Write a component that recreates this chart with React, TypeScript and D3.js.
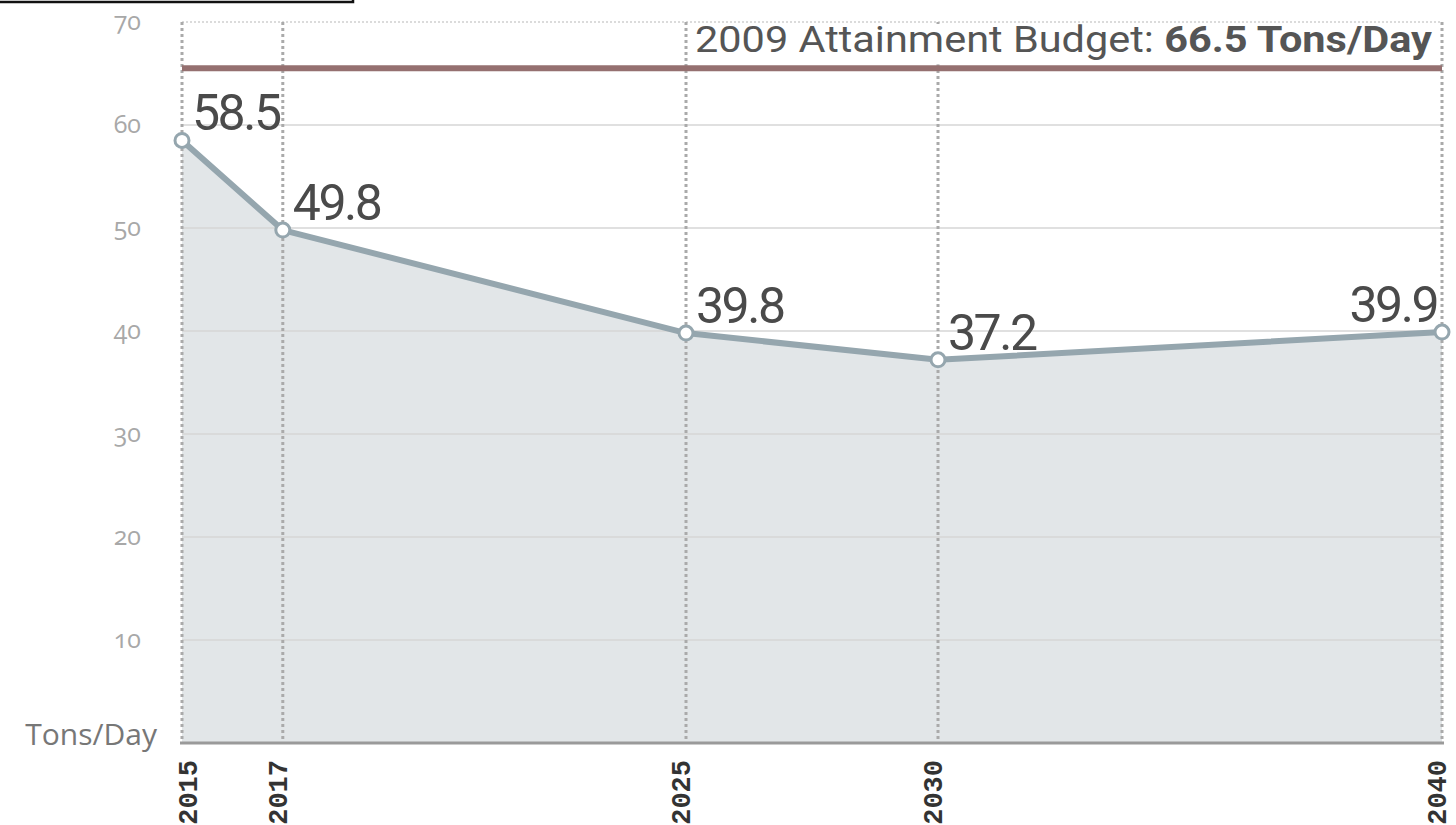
import React from 'react';
import * as d3 from 'd3';

// chart data
const years = [2015, 2017, 2025, 2030, 2040];
const emissions = [58.5, 49.8, 39.8, 37.2, 39.9];
const yTicks = [10, 20, 30, 40, 50, 60];
const budgetLevel = 65.5; // where the budget line sits in the picture
const budgetText = '2009 Attainment Budget: ';
const budgetBold = '66.5 Tons/Day';
const unitLabel = 'Tons/Day';

const W = 1456;
const H = 825;

const App = () => {
  const x = d3.scaleLinear().domain([2015, 2040]).range([182, 1442]);
  const y = d3.scaleLinear().domain([0, 70]).range([743, 22]);

  const pts = years.map((yr, i) => ({ yr, v: emissions[i] }));

  const area = d3.area<{ yr: number; v: number }>()
    .x(d => x(d.yr))
    .y0(y(0))
    .y1(d => y(d.v));
  const line = d3.line<{ yr: number; v: number }>()
    .x(d => x(d.yr))
    .y(d => y(d.v));

  const lineColor = '#95a6ae';

  return (
    <svg width={W} height={H} style={{ position: 'absolute', left: 0, top: 0, background: '#fff' }}>
      {/* stray frame edge at top left */}
      <rect x={-3} y={-20} width={356} height={22} fill="none" stroke="#111" strokeWidth={2.5} />

      {/* filled area */}
      <path d={area(pts) || ''} fill="#e2e6e8" />

      {/* gridlines */}
      {yTicks.map(t => (
        <line key={t} x1={x(2015)} x2={x(2040)} y1={y(t)} y2={y(t)} stroke="#d6d6d6" strokeWidth={1.5} />
      ))}
      <line x1={x(2015)} x2={x(2040)} y1={y(70)} y2={y(70)} stroke="#cfcfcf" strokeWidth={1.5} strokeDasharray="2,2" />

      {/* vertical dotted year lines */}
      {years.map(yr => (
        <line key={yr} x1={x(yr)} x2={x(yr)} y1={y(70)} y2={y(0)} stroke="#aaa" strokeWidth={3} strokeDasharray="3,3" />
      ))}

      {/* budget label box */}
      <rect x={x(2025) + 3} y={y(70) + 2} width={x(2040) - x(2025) - 6} height={y(budgetLevel) - y(70) - 6} fill="#fff" />
      <text x={695} y={52} textLength={737} lengthAdjust="spacingAndGlyphs"
        fontFamily="Roboto, sans-serif" fontSize={36} fill="#555">
        {budgetText}<tspan fontWeight="bold">{budgetBold}</tspan>
      </text>

      {/* budget line */}
      <line x1={x(2015)} x2={x(2040)} y1={y(budgetLevel)} y2={y(budgetLevel)} stroke="#957070" strokeWidth={6} />

      {/* bottom axis */}
      <line x1={x(2015) - 2} x2={x(2040) + 2} y1={y(0)} y2={y(0)} stroke="#9a9a9a" strokeWidth={3} />

      {/* data line */}
      <path d={line(pts) || ''} fill="none" stroke={lineColor} strokeWidth={6} strokeLinejoin="round" />
      {pts.map(p => (
        <circle key={p.yr} cx={x(p.yr)} cy={y(p.v)} r={7} fill="#fff" stroke={lineColor} strokeWidth={3} />
      ))}

      {/* value labels */}
      {pts.map((p, i) => {
        const last = i === pts.length - 1;
        return (
          <text key={p.yr}
            x={last ? x(p.yr) - 5 : x(p.yr) + 10}
            y={y(p.v) - 10}
            textAnchor={last ? 'end' : 'start'}
            fontFamily="Roboto, sans-serif" fontSize={50} letterSpacing={-2.5} fill="#4a4a4a">
            {p.v.toFixed(1)}
          </text>
        );
      })}

      {/* y tick labels */}
      {[...yTicks, 70].map(t => (
        <text key={t} x={141} y={y(t)} dy="0.3em" textAnchor="end"
          fontFamily="'Open Sans', sans-serif" fontSize={25} fill="#a8a8a8"
          style={{ fontVariantNumeric: 'oldstyle-nums' }}>
          {t}
        </text>
      ))}
      <text x={157} y={745} textAnchor="end" fontFamily="'Open Sans', sans-serif" fontSize={30} fill="#777">{unitLabel}</text>

      {/* x tick labels */}
      {years.map(yr => {
        const cx = Math.max(x(yr) - 3, 190);
        return (
          <text key={yr} transform={`translate(${cx},760) rotate(-90)`} textAnchor="end" dominantBaseline="central"
            fontFamily="'Liberation Mono', monospace" fontWeight="bold" fontSize={27} fill="#333">
            {yr}
          </text>
        );
      })}
    </svg>
  );
};

export default App;
